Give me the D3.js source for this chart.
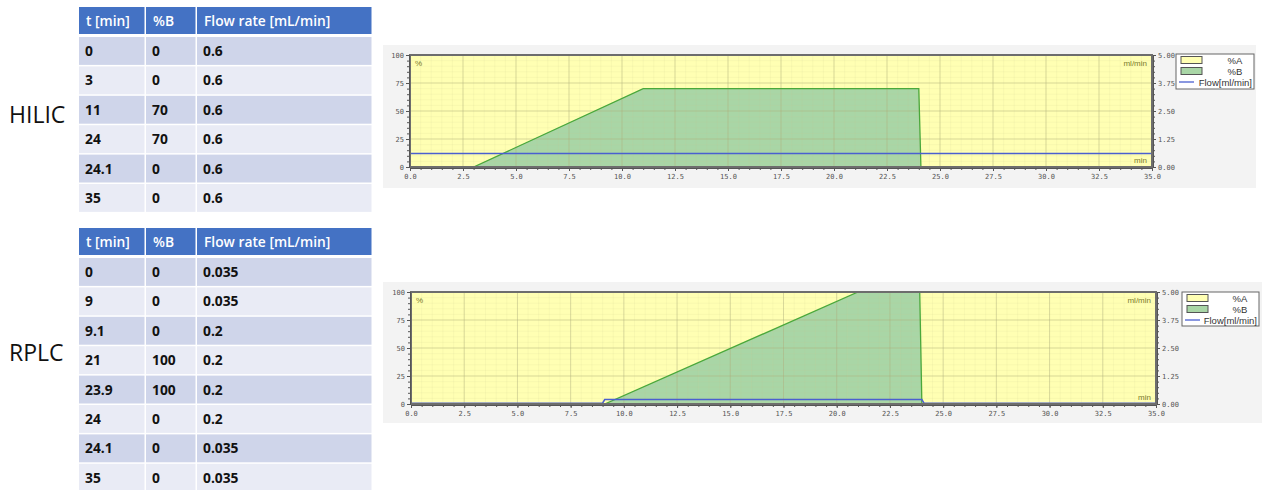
<!DOCTYPE html>
<html>
<head>
<meta charset="utf-8">
<script src="https://cdn.jsdelivr.net/npm/d3@7"></script>
<style>
  body { margin: 0; background: #fff; }
  svg { display: block; }
  .cell { font-family: "Open Sans", sans-serif; font-weight: bold; font-size: 13.8px; fill: #111; }
  .head { font-family: "Open Sans", sans-serif; font-weight: 600; font-size: 13.8px; fill: #fff; }
  .side { font-family: "Open Sans", sans-serif; font-size: 23px; fill: #111; }
  .tick text { font-family: "DejaVu Sans Mono", monospace; font-size: 7px; fill: #555; }
  .tick line, .domain { stroke: #555; }
  .unit { font-family: "Liberation Sans", Arial, sans-serif; font-size: 8px; fill: #7a7a2a; }
  .legend text { font-family: "Liberation Sans", Arial, sans-serif; font-size: 9.5px; fill: #333; }
</style>
</head>
<body>
<svg id="page" width="1266" height="490"></svg>
<script>
// table headers
const tableHeaders = ["t [min]", "%B", "Flow rate [mL/min]"];

// HILIC gradient
const hilicTime = [0, 3, 11, 24, 24.1, 35];
const hilicB = [0, 0, 70, 70, 0, 0];
const hilicFlow = [0.6, 0.6, 0.6, 0.6, 0.6, 0.6];

// RPLC gradient
const rplcTime = [0, 9, 9.1, 21, 23.9, 24, 24.1, 35];
const rplcB = [0, 0, 0, 100, 100, 0, 0, 0];
const rplcFlow = [0.035, 0.035, 0.2, 0.2, 0.2, 0.2, 0.035, 0.035];

// axis ticks
const xTicks = [0, 2.5, 5, 7.5, 10, 12.5, 15, 17.5, 20, 22.5, 25, 27.5, 30, 32.5, 35];
const pctTicks = [0, 25, 50, 75, 100];
const flowTicks = [0, 1.25, 2.5, 3.75, 5];
const legendLabels = ["%A", "%B", "Flow[ml/min]"];

const svg = d3.select('#page');
svg.append('rect').attr('width', 1266).attr('height', 490).attr('fill', '#fff');

// Draw a gradient table
function drawTable(top, label, labelY, times, bs, flows) {
  const g = svg.append('g');
  const cols = [79, 146, 197, 373];
  const rowH = 29.4;
  // header
  tableHeaders.forEach((h, i) => {
    g.append('rect')
      .attr('x', cols[i]).attr('y', top)
      .attr('width', cols[i + 1] - cols[i] - 1.5).attr('height', 27)
      .attr('fill', '#4472c4');
    g.append('text').attr('class', 'head')
      .attr('x', cols[i] + 7).attr('y', top + 18.5).text(h);
  });
  times.forEach((t, r) => {
    const y = top + 30 + r * rowH;
    const vals = [String(t), String(bs[r]), String(flows[r])];
    vals.forEach((v, i) => {
      g.append('rect')
        .attr('x', cols[i]).attr('y', y)
        .attr('width', cols[i + 1] - cols[i] - 1.5).attr('height', rowH - 1.5)
        .attr('fill', r % 2 === 0 ? '#cfd5ea' : '#e9ebf5');
      g.append('text').attr('class', 'cell')
        .attr('x', cols[i] + 6).attr('y', y + 19).text(v);
    });
  });
  g.append('text').attr('class', 'side')
    .attr('x', 9).attr('y', labelY).text(label);
}

drawTable(7, 'HILIC', 123, hilicTime, hilicB, hilicFlow);
drawTable(228, 'RPLC', 361, rplcTime, rplcB, rplcFlow);

// Draw a gradient chart
function drawChart(panel, box, legendPos, times, bs, flows, clipId) {
  svg.append('rect')
    .attr('x', panel[0]).attr('y', panel[1])
    .attr('width', panel[2]).attr('height', panel[3])
    .attr('fill', '#f3f3f3');

  const [left, top, right, bottom] = box;
  const x = d3.scaleLinear().domain([0, 35]).range([left, right]);
  const y = d3.scaleLinear().domain([0, 100]).range([bottom, top]);
  const yFlow = d3.scaleLinear().domain([0, 5]).range([bottom, top]);

  const g = svg.append('g');
  const pts = times.map((t, i) => ({ t: t, b: bs[i], f: flows[i] }));

  g.append('clipPath').attr('id', clipId)
    .append('rect').attr('x', left).attr('y', top)
    .attr('width', right - left).attr('height', bottom - top);

  const plot = g.append('g').attr('clip-path', `url(#${clipId})`);

  // %A area (from %B up to 100)
  plot.append('path')
    .datum(pts)
    .attr('d', d3.area().x(d => x(d.t)).y0(d => y(d.b)).y1(y(100)))
    .attr('fill', '#ffffb3');

  // %B area
  plot.append('path')
    .datum(pts)
    .attr('d', d3.area().x(d => x(d.t)).y0(y(0)).y1(d => y(d.b)))
    .attr('fill', '#a9d6a6');

  // grid
  const minorX = d3.range(0, 35.01, 0.5);
  const minorY = d3.range(0, 100.01, 5);
  plot.selectAll('.mx').data(minorX).join('line')
    .attr('x1', d => x(d)).attr('x2', d => x(d))
    .attr('y1', top).attr('y2', bottom)
    .attr('stroke', '#c8c890').attr('stroke-opacity', 0.22).attr('stroke-width', 0.6);
  plot.selectAll('.my').data(minorY).join('line')
    .attr('y1', d => y(d)).attr('y2', d => y(d))
    .attr('x1', left).attr('x2', right)
    .attr('stroke', '#c8c890').attr('stroke-opacity', 0.22).attr('stroke-width', 0.6);
  plot.selectAll('.gx').data(xTicks).join('line')
    .attr('x1', d => x(d)).attr('x2', d => x(d))
    .attr('y1', top).attr('y2', bottom)
    .attr('stroke', '#a9a97a').attr('stroke-opacity', 0.5).attr('stroke-width', 0.8);
  plot.selectAll('.gy').data(pctTicks).join('line')
    .attr('y1', d => y(d)).attr('y2', d => y(d))
    .attr('x1', left).attr('x2', right)
    .attr('stroke', '#a9a97a').attr('stroke-opacity', 0.5).attr('stroke-width', 0.8);

  // %B line
  plot.append('path')
    .datum(pts)
    .attr('d', d3.line().x(d => x(d.t)).y(d => y(d.b)))
    .attr('fill', 'none').attr('stroke', '#4aa83a').attr('stroke-width', 1.3);

  // flow line
  plot.append('path')
    .datum(pts)
    .attr('d', d3.line().x(d => x(d.t)).y(d => yFlow(d.f)))
    .attr('fill', 'none').attr('stroke', '#4a5fd0').attr('stroke-width', 1.5);

  // border
  g.append('rect')
    .attr('x', left).attr('y', top)
    .attr('width', right - left).attr('height', bottom - top)
    .attr('fill', 'none').attr('stroke', '#6d6d6d').attr('stroke-width', 2);

  // unit labels
  g.append('text').attr('class', 'unit').attr('x', left + 5).attr('y', top + 11).text('%');
  g.append('text').attr('class', 'unit').attr('x', right - 5).attr('y', top + 11)
    .attr('text-anchor', 'end').text('ml/min');
  g.append('text').attr('class', 'unit').attr('x', right - 5).attr('y', bottom - 4)
    .attr('text-anchor', 'end').text('min');

  // axes
  g.append('g').attr('transform', `translate(0,${bottom + 1})`)
    .call(d3.axisBottom(x).tickValues(xTicks).tickFormat(d3.format('.1f')).tickSize(3).tickPadding(3));
  g.append('g').attr('transform', `translate(0,${bottom + 1})`)
    .call(d3.axisBottom(x).tickValues(minorX).tickFormat('').tickSize(2));
  g.append('g').attr('transform', `translate(${left - 1},0)`)
    .call(d3.axisLeft(y).tickValues(pctTicks).tickSize(3).tickPadding(2));
  g.append('g').attr('transform', `translate(${left - 1},0)`)
    .call(d3.axisLeft(y).tickValues(minorY).tickFormat('').tickSize(2));
  g.append('g').attr('transform', `translate(${right + 1},0)`)
    .call(d3.axisRight(yFlow).tickValues(flowTicks).tickFormat(d3.format('.2f')).tickSize(3).tickPadding(2));
  g.append('g').attr('transform', `translate(${right + 1},0)`)
    .call(d3.axisRight(yFlow).tickValues(d3.range(0, 5.01, 0.25)).tickFormat('').tickSize(2));
  g.selectAll('.domain').attr('stroke', '#666');

  // legend
  const [lx, ly, lw, lh] = legendPos;
  const lg = g.append('g').attr('class', 'legend');
  lg.append('rect').attr('x', lx).attr('y', ly).attr('width', lw).attr('height', lh)
    .attr('fill', '#fff').attr('stroke', '#666').attr('stroke-width', 1);
  legendLabels.forEach((name, i) => {
    const cy = ly + 6 + i * 11;
    if (i < 2) {
      lg.append('rect').attr('x', lx + 5).attr('y', cy - 3.5).attr('width', 21).attr('height', 7)
        .attr('fill', i === 0 ? '#ffffb3' : '#a9d6a6').attr('stroke', '#555').attr('stroke-width', 1);
    } else {
      lg.append('line').attr('x1', lx + 3).attr('x2', lx + 18).attr('y1', cy).attr('y2', cy)
        .attr('stroke', '#4a5fd0').attr('stroke-width', 1.3);
    }
    lg.append('text').attr('x', lx + lw - 2).attr('y', cy + 3.5)
      .attr('text-anchor', i < 2 ? 'middle' : 'end')
      .attr('dx', i < 2 ? -17 : 0)
      .text(name);
  });
}

drawChart([383, 45, 873, 143], [410, 55, 1152, 167], [1176, 54, 78, 35], hilicTime, hilicB, hilicFlow, 'clipH');
drawChart([383, 282, 879, 141], [411, 292, 1156, 404], [1182, 292, 77, 34], rplcTime, rplcB, rplcFlow, 'clipR');
</script>
</body>
</html>
